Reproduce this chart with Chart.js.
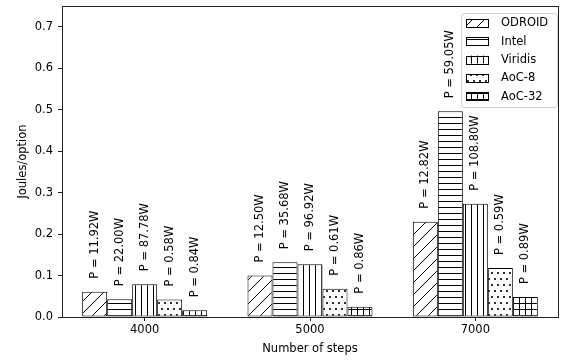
<!DOCTYPE html>
<html>
<head>
<meta charset="utf-8">
<script src="https://cdn.jsdelivr.net/npm/chart.js@4"></script>
<style>
  html, body { margin: 0; padding: 0; background: #fff; }
  #wrap { width: 573px; height: 362px; }
</style>
</head>
<body>
<div id="wrap"><canvas id="chart" width="573" height="362"></canvas></div>
<script>
// data
const steps = ['4000', '5000', '7000'];
const seriesNames = ['ODROID', 'Intel', 'Viridis', 'AoC-8', 'AoC-32'];
const odroid = [0.061, 0.100, 0.230];
const intel = [0.043, 0.132, 0.496];
const viridis = [0.079, 0.127, 0.273];
const aoc8 = [0.042, 0.068, 0.118];
const aoc32 = [0.016, 0.025, 0.048];
const odroidPower = ['P = 11.92W', 'P = 12.50W', 'P = 12.82W'];
const intelPower = ['P = 22.00W', 'P = 35.68W', 'P = 59.05W'];
const viridisPower = ['P = 87.78W', 'P = 96.92W', 'P = 108.80W'];
const aoc8Power = ['P = 0.58W', 'P = 0.61W', 'P = 0.59W'];
const aoc32Power = ['P = 0.84W', 'P = 0.86W', 'P = 0.89W'];
const yTicks = [0, 0.1, 0.2, 0.3, 0.4, 0.5, 0.6, 0.7];

const FONT = 'DejaVu Sans';

function makeHatch(kind){
    const c = document.createElement('canvas');
    const size = (kind === 'diag' || kind === 'dots') ? 12 : 6;
    c.width = size; c.height = size;
    const g = c.getContext('2d');
    g.fillStyle = '#fff';
    g.fillRect(0, 0, size, size);
    g.strokeStyle = '#000';
    g.fillStyle = '#000';
    g.lineWidth = 1;
    g.beginPath();
    if(kind === 'diag'){
        g.moveTo(0, size); g.lineTo(size, 0);
        g.moveTo(-2, 2); g.lineTo(2, -2);
        g.moveTo(size-2, size+2); g.lineTo(size+2, size-2);
        g.stroke();
    } else if(kind === 'horiz'){
        g.moveTo(0, 3.5); g.lineTo(size, 3.5); g.stroke();
    } else if(kind === 'vert'){
        g.moveTo(3.5, 0); g.lineTo(3.5, size); g.stroke();
    } else if(kind === 'cross'){
        g.moveTo(0, 3.5); g.lineTo(size, 3.5);
        g.moveTo(3.5, 0); g.lineTo(3.5, size); g.stroke();
    } else if(kind === 'dots'){
        const pts = [[3,3],[9,3],[0,9],[6,9],[12,9]];
        pts.forEach(p=>{ g.moveTo(p[0]+1.1, p[1]); g.arc(p[0], p[1], 1.1, 0, Math.PI*2); });
        g.fill();
    }
    return g.createPattern(c, 'repeat');
}

const ctx = document.getElementById('chart').getContext('2d');
const hatches = [makeHatch('diag'), makeHatch('horiz'), makeHatch('vert'), makeHatch('dots'), makeHatch('cross')];
const values = [odroid, intel, viridis, aoc8, aoc32];
const powers = [odroidPower, intelPower, viridisPower, aoc8Power, aoc32Power];

const datasets = seriesNames.map((name,i)=>({
    label: name,
    data: values[i],
    backgroundColor: hatches[i],
    borderColor: '#000',
    borderWidth: 1,
    borderSkipped: false,
    categoryPercentage: 0.756,
    barPercentage: 1.0
}));

// frame, power labels, legend, axis titles
const decorations = {
    id: 'decorations',
    afterDatasetsDraw(chart){
        const c = chart.ctx;
        const a = chart.chartArea;
        c.save();
        // power annotations
        c.font = '11.5px "' + FONT + '"';
        c.fillStyle = '#000';
        c.textAlign = 'left';
        c.textBaseline = 'middle';
        chart.data.datasets.forEach((ds,i)=>{
            chart.getDatasetMeta(i).data.forEach((bar,j)=>{
                c.save();
                c.translate(bar.x, bar.y - 13);
                c.rotate(-Math.PI/2);
                c.fillText(powers[i][j], 0, 0);
                c.restore();
            });
        });
        // plot frame
        c.strokeStyle = '#222';
        c.lineWidth = 1;
        c.strokeRect(Math.round(a.left)+0.5, Math.round(a.top)+0.5, Math.round(a.right-a.left), Math.round(a.bottom-a.top));
        // legend
        const lx = 461, ly = 13, lw = 96, lh = 94;
        c.beginPath();
        c.roundRect(lx+0.5, ly+0.5, lw, lh, 3);
        c.fillStyle = 'rgba(255,255,255,0.8)';
        c.fill();
        c.strokeStyle = '#d0d0d0';
        c.stroke();
        c.font = '11.5px "' + FONT + '"';
        c.textBaseline = 'middle';
        seriesNames.forEach((name,i)=>{
            const cy = 23 + i*18.3;
            c.fillStyle = hatches[i];
            c.fillRect(466, cy-4, 22, 8);
            c.strokeStyle = '#000';
            c.strokeRect(466.5, Math.round(cy-4)+0.5, 22, 8);
            c.fillStyle = '#000';
            c.fillText(name, 501, cy+0.5);
        });
        // axis titles
        c.textAlign = 'center';
        c.fillText('Number of steps', (a.left+a.right)/2, 349);
        c.save();
        c.translate(23, (a.top+a.bottom)/2);
        c.rotate(-Math.PI/2);
        c.fillText('Joules/option', 0, 0);
        c.restore();
        c.restore();
    }
};

new Chart(ctx, {
    type: 'bar',
    data: { labels: steps, datasets: datasets },
    options: {
        responsive: false,
        animation: false,
        layout: { padding: { left: 0, top: 6, right: 15, bottom: 0 } },
        plugins: { legend: { display: false }, tooltip: { enabled: false } },
        scales: {
            x: {
                offset: true,
                grid: { display: true, drawOnChartArea: false, offset: false, tickLength: 4, color: '#222' },
                border: { display: false },
                ticks: { color: '#000', font: { family: FONT, size: 11.5 }, padding: 2, maxRotation: 0 },
                afterFit(scale){ scale.height = 45; scale.paddingLeft = 0; scale.paddingRight = 0; }
            },
            y: {
                min: 0,
                max: 0.75,
                grid: { display: true, drawOnChartArea: false, tickLength: 4, color: '#222' },
                border: { display: false },
                afterBuildTicks(scale){ scale.ticks = yTicks.map(v=>({value: v})); },
                ticks: {
                    color: '#000', font: { family: FONT, size: 11.5 }, padding: 5,
                    callback: v => Number(v).toFixed(1)
                },
                afterFit(scale){ scale.width = 62; scale.paddingTop = 0; scale.paddingBottom = 0; }
            }
        }
    },
    plugins: [decorations]
});
</script>
</body>
</html>
